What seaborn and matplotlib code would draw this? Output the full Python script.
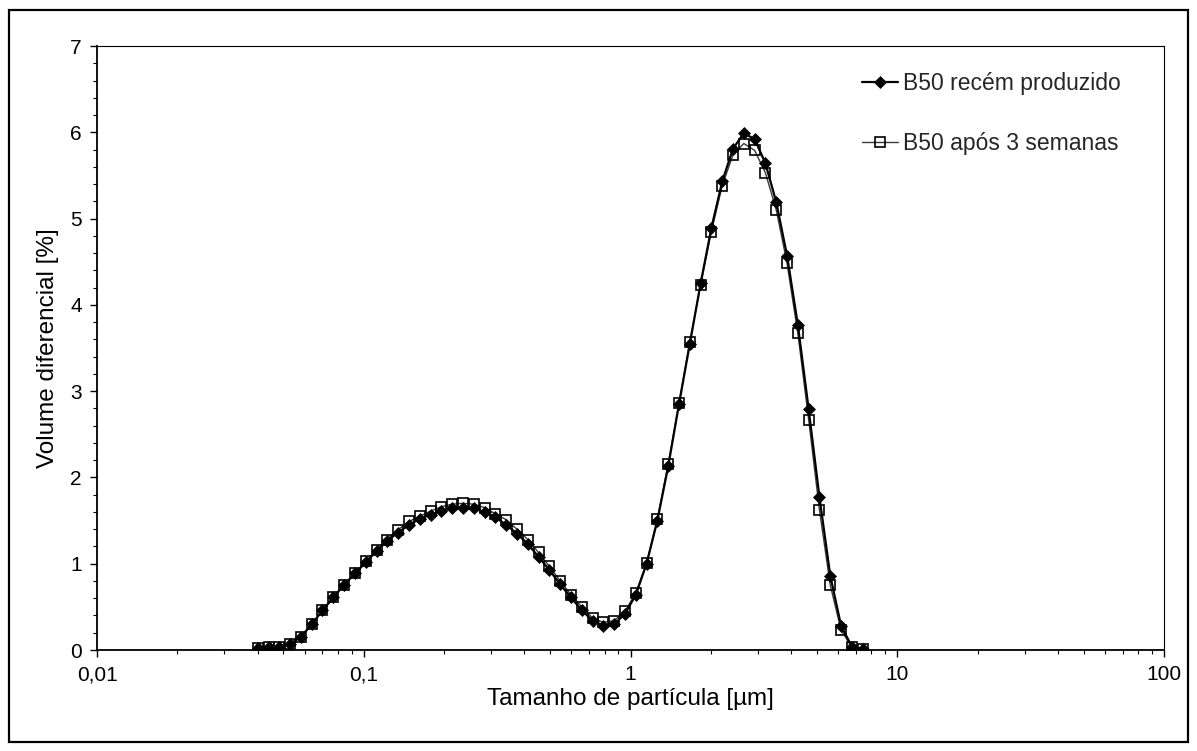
import matplotlib
matplotlib.use("Agg")
import matplotlib.pyplot as plt
from matplotlib.patches import Rectangle
from matplotlib.ticker import FixedLocator, FixedFormatter, LogLocator, MultipleLocator, NullFormatter
import numpy as np
import pandas as pd
import seaborn as sns

# Particle size bins [µm]
tamanho = [0.040, 0.044, 0.048, 0.053, 0.058, 0.064, 0.070, 0.077, 0.084, 0.093,
           0.102, 0.112, 0.122, 0.134, 0.148, 0.162, 0.178, 0.195, 0.214, 0.235,
           0.258, 0.284, 0.311, 0.342, 0.375, 0.412, 0.452, 0.496, 0.545, 0.598,
           0.657, 0.721, 0.791, 0.869, 0.954, 1.047, 1.149, 1.261, 1.385, 1.520,
           1.669, 1.832, 2.010, 2.207, 2.423, 2.660, 2.920, 3.205, 3.519, 3.863,
           4.240, 4.655, 5.110, 5.610, 6.158, 6.760, 7.421]

# Differential volume [%] - freshly produced
b50_novo = [0.02, 0.03, 0.04, 0.07, 0.15, 0.30, 0.46, 0.61, 0.75, 0.89,
            1.02, 1.15, 1.26, 1.36, 1.45, 1.52, 1.57, 1.61, 1.64, 1.65,
            1.64, 1.60, 1.54, 1.45, 1.35, 1.23, 1.08, 0.93, 0.76, 0.61,
            0.46, 0.34, 0.28, 0.30, 0.42, 0.64, 1.00, 1.50, 2.13, 2.85,
            3.55, 4.25, 4.89, 5.43, 5.81, 5.99, 5.92, 5.64, 5.19, 4.57,
            3.77, 2.79, 1.77, 0.86, 0.28, 0.04, 0.01]

# Differential volume [%] - after 3 weeks
b50_3sem = [0.02, 0.03, 0.04, 0.07, 0.15, 0.30, 0.46, 0.61, 0.75, 0.89,
            1.03, 1.16, 1.28, 1.39, 1.49, 1.55, 1.61, 1.66, 1.69, 1.70,
            1.69, 1.65, 1.58, 1.51, 1.40, 1.28, 1.13, 0.97, 0.80, 0.64,
            0.50, 0.37, 0.32, 0.34, 0.45, 0.66, 1.01, 1.52, 2.16, 2.86,
            3.57, 4.23, 4.85, 5.38, 5.74, 5.87, 5.79, 5.53, 5.10, 4.48,
            3.67, 2.67, 1.62, 0.75, 0.23, 0.03, 0.01]

serie_novo = "B50 recém produzido"
serie_3sem = "B50 após 3 semanas"

x_ticks = [0.01, 0.1, 1, 10, 100]
x_ticklabels = ["0,01", "0,1", "1", "10", "100"]

sns.set_theme(style="white")
plt.rcParams["font.family"] = ["Liberation Sans", "DejaVu Sans"]
FS_TICK = 15
FS_LABEL = 17.5
FS_LEG = 16.5

df_novo = pd.DataFrame({"x": tamanho, "y": b50_novo})
df_3sem = pd.DataFrame({"x": tamanho, "y": b50_3sem})

fig = plt.figure(figsize=(11.97, 7.51), dpi=100)
ax = fig.add_axes([97 / 1197, 1 - 650 / 751, (1164 - 97) / 1197, (650 - 46) / 751])

sns.lineplot(data=df_3sem, x="x", y="y", ax=ax, color="#3a3a3a", linewidth=1.0,
             marker="s", markersize=6.5, markerfacecolor="none",
             markeredgecolor="black", markeredgewidth=1.2,
             label=serie_3sem, zorder=3)
sns.lineplot(data=df_novo, x="x", y="y", ax=ax, color="black", linewidth=1.6,
             marker="D", markersize=6, markerfacecolor="black",
             markeredgecolor="black", markeredgewidth=0.5,
             label=serie_novo, zorder=4)

ax.set_xscale("log")
ax.set_xlim(0.01, 100)
ax.set_ylim(0, 7)
ax.xaxis.set_major_locator(FixedLocator(x_ticks))
ax.xaxis.set_major_formatter(FixedFormatter(x_ticklabels))
ax.xaxis.set_minor_locator(LogLocator(base=10, subs=np.arange(2, 10)))
ax.xaxis.set_minor_formatter(NullFormatter())
ax.yaxis.set_major_locator(MultipleLocator(1))
ax.yaxis.set_minor_locator(MultipleLocator(0.2))

ax.tick_params(axis="both", which="major", direction="out", length=5, width=1.0,
               color="black", labelsize=FS_TICK, labelcolor="black", pad=6,
               bottom=True, left=True, top=False, right=False)
ax.tick_params(axis="both", which="minor", direction="out", length=3, width=0.8,
               color="black", bottom=True, left=True, top=False, right=False)

for side in ["left", "bottom"]:
    ax.spines[side].set_color("black")
    ax.spines[side].set_linewidth(1.3)
for side in ["top", "right"]:
    ax.spines[side].set_color("black")
    ax.spines[side].set_linewidth(0.8)

ax.set_xlabel("Tamanho de partícula [µm]", fontsize=FS_LABEL, color="black", labelpad=3)
ax.set_ylabel("Volume diferencial [%]", fontsize=FS_LABEL, color="black", labelpad=8)
ax.grid(False)

# Legend: freshly produced first
handles, labels = ax.get_legend_handles_labels()
order = [labels.index(serie_novo), labels.index(serie_3sem)]
ax.legend([handles[i] for i in order], [labels[i] for i in order],
          loc="upper left", bbox_to_anchor=(862 / 1197, 1 - 72 / 751),
          bbox_transform=fig.transFigure, frameon=False, fontsize=FS_LEG,
          handlelength=1.55, handletextpad=0.25, labelspacing=1.6,
          borderpad=0, borderaxespad=0)

# Outer frame around the whole figure
fig.patches.append(Rectangle((9 / 1197, 1 - 742 / 751), (1188 - 9) / 1197, (742 - 10) / 751,
                             transform=fig.transFigure, fill=False,
                             edgecolor="black", linewidth=1.6, zorder=10))

fig.savefig("out.png", dpi=100)
